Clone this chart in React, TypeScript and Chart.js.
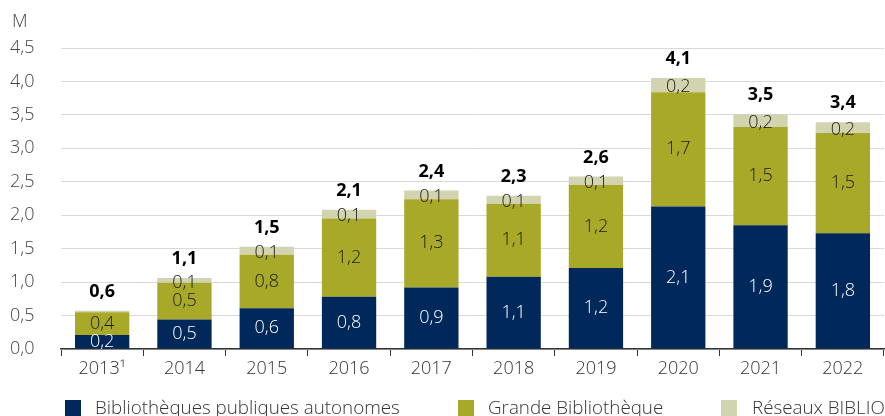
import React, { useEffect, useRef } from 'react';
import { Chart, registerables } from 'chart.js';
Chart.register(...registerables);

const categories = ['2013¹', '2014', '2015', '2016', '2017', '2018', '2019', '2020', '2021', '2022'];
const autonomes = [0.21, 0.44, 0.61, 0.78, 0.92, 1.08, 1.21, 2.13, 1.85, 1.73];
const grande = [0.34, 0.55, 0.8, 1.17, 1.32, 1.09, 1.24, 1.71, 1.47, 1.5];
const biblio = [0.02, 0.07, 0.12, 0.13, 0.13, 0.12, 0.13, 0.21, 0.19, 0.16];
const autonomesLabels = ['0,2', '0,5', '0,6', '0,8', '0,9', '1,1', '1,2', '2,1', '1,9', '1,8'];
const grandeLabels = ['0,4', '0,5', '0,8', '1,2', '1,3', '1,1', '1,2', '1,7', '1,5', '1,5'];
const biblioLabels = ['', '0,1', '0,1', '0,1', '0,1', '0,1', '0,1', '0,2', '0,2', '0,2'];
const totalLabels = ['0,6', '1,1', '1,5', '2,1', '2,4', '2,3', '2,6', '4,1', '3,5', '3,4'];
const seriesNames = ['Bibliothèques publiques autonomes', 'Grande Bibliothèque', 'Réseaux BIBLIO'];
const seriesColors = ['#00285a', '#a8a928', '#d2d4b0'];
const unitLabel = 'M';

const FONT = '"Open Sans", "DejaVu Sans", sans-serif';
const SIZE = 18;

const labelPlugin = {
  id: 'barLabels',
  afterDatasetsDraw(chart: any) {
    const ctx = chart.ctx;
    ctx.save();
    ctx.textAlign = 'center';
    ctx.textBaseline = 'middle';
    const sets: [string[], string][] = [
      [autonomesLabels, '#ffffff'],
      [grandeLabels, '#1a1a1a'],
      [biblioLabels, '#1a1a1a'],
    ];
    sets.forEach(([labels, color], di) => {
      const meta = chart.getDatasetMeta(di);
      meta.data.forEach((bar: any, i: number) => {
        const p = bar.getProps(['x', 'y', 'base'], true);
        ctx.fillStyle = color;
        ctx.font = `300 ${SIZE}px ${FONT}`;
        const off = di === 2 ? 2 : 0;
        ctx.fillText(labels[i], p.x, (p.y + p.base) / 2 + off);
      });
    });
    const topMeta = chart.getDatasetMeta(2);
    topMeta.data.forEach((bar: any, i: number) => {
      ctx.font = `bold ${SIZE}px ${FONT}`;
      ctx.fillStyle = '#000000';
      ctx.fillText(totalLabels[i], bar.x, bar.y - 19);
    });
    ctx.textAlign = 'left';
    ctx.fillStyle = '#444444';
    ctx.font = `300 ${SIZE}px ${FONT}`;
    ctx.fillText(unitLabel, 12, 22);
    ctx.restore();
  },
};

export default function App() {
  const ref = useRef<HTMLCanvasElement>(null);
  useEffect(() => {
    if (!ref.current) return;
    const chart = new Chart(ref.current, {
      type: 'bar',
      data: {
        labels: categories,
        datasets: [
          { label: seriesNames[0], data: autonomes, backgroundColor: seriesColors[0] },
          { label: seriesNames[1], data: grande, backgroundColor: seriesColors[1] },
          { label: seriesNames[2], data: biblio, backgroundColor: seriesColors[2] },
        ],
      },
      options: {
        responsive: false,
        animation: false,
        datasets: { bar: { barPercentage: 0.66, categoryPercentage: 1, borderWidth: 0 } },
        layout: { padding: { top: 48, left: 10, right: 1, bottom: 0 } },
        plugins: { legend: { display: false }, tooltip: { enabled: false } },
        scales: {
          x: {
            stacked: true,
            offset: true,
            grid: { display: true, drawOnChartArea: false, drawTicks: true, tickLength: 7, color: '#333333', offset: true },
            border: { display: true, color: '#333333', width: 1.5 },
            ticks: { font: { family: FONT, size: SIZE, weight: '300' }, color: '#333333', padding: 2, maxRotation: 0, autoSkip: false },
            afterFit: (s: any) => { s.height = 67; },
          },
          y: {
            stacked: true,
            min: 0,
            max: 4.5,
            ticks: {
              stepSize: 0.5,
              crossAlign: 'far',
              padding: 0,
              font: { family: FONT, size: SIZE, weight: '300' },
              color: '#444444',
              callback: (v: any) => Number(v).toFixed(1).replace('.', ','),
            },
            grid: { color: '#d9d9d9', drawTicks: false },
            border: { display: false },
            afterFit: (s: any) => { s.width = 51; },
          },
        },
      },
      plugins: [labelPlugin],
    } as any);
    return () => chart.destroy();
  }, []);

  const legendPos = [
    { box: 65, text: 95 },
    { box: 458, text: 488 },
    { box: 721, text: 752 },
  ];

  return (
    <div style={{ position: 'fixed', left: 0, top: 0, width: 885, height: 416, background: '#fff', overflow: 'hidden' }}>
      <canvas ref={ref} width={885} height={416} style={{ display: 'block' }} />
      {seriesNames.map((n, i) => (
        <React.Fragment key={n}>
          <div style={{ position: 'absolute', left: legendPos[i].box, top: 400, width: 16, height: 16, background: seriesColors[i] }} />
          <div style={{ position: 'absolute', left: legendPos[i].text, top: 394, fontFamily: FONT, fontWeight: 300, fontSize: 18.8, color: '#333', whiteSpace: 'nowrap', lineHeight: 'normal' }}>{n}</div>
        </React.Fragment>
      ))}
    </div>
  );
}
